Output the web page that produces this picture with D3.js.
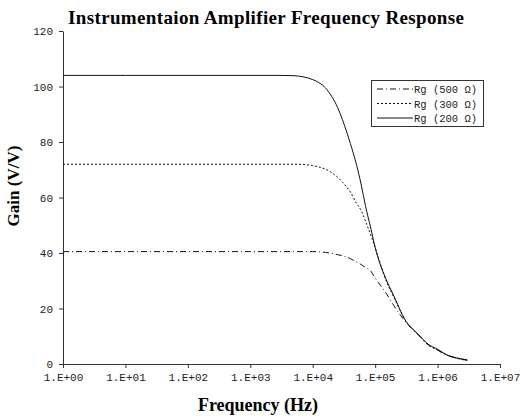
<!DOCTYPE html>
<html>
<head>
<meta charset="utf-8">
<script src="https://cdn.jsdelivr.net/npm/d3@7"></script>
<style>
  body { margin: 0; background: #fff; }
  svg { display: block; }
</style>
</head>
<body>
<svg width="520" height="419"></svg>
<script>
// measured frequencies (Hz)
var freqs = [1, 10, 100, 1000, 3000, 5000, 7000, 10000, 13000, 16000, 20000, 25000, 30000,
             40000, 50000, 60000, 70000, 85000, 100000, 150000, 200000, 300000, 500000,
             700000, 1000000, 1500000, 2000000, 3000000];

var gain500 = [40.5, 40.5, 40.5, 40.5, 40.5, 40.5, 40.5, 40.5, 40.4, 40.2, 39.9, 39.4, 39,
               38, 36.8, 35.8, 34.8, 33.5, 31, 25.5, 21, 15.5, 10.3,
               7, 5, 3, 2.2, 1.3];
var gain300 = [72, 72, 72, 72, 72, 72, 71.9, 71.5, 70.9, 70.2, 69, 67.3, 65.5,
               62, 58, 55.2, 51.5, 46.5, 42, 30, 24, 16, 10.5,
               7, 5, 3, 2.1, 1.3];
var gain200 = [104, 104, 104, 104, 104, 103.9, 103.5, 102.5, 101.2, 99.5, 96.5, 92.5, 88,
               79.5, 72, 64.5, 57, 49, 42, 30.5, 24.5, 16, 10.5,
               7.2, 5.3, 3, 2.2, 1.5];

var seriesNames = ["Rg (500 \u03a9)", "Rg (300 \u03a9)", "Rg (200 \u03a9)"];
var xTicks = [1, 10, 100, 1000, 10000, 100000, 1000000, 10000000];
var xTickLabels = ["1.E+00", "1.E+01", "1.E+02", "1.E+03", "1.E+04", "1.E+05", "1.E+06", "1.E+07"];
var yTicks = [0, 20, 40, 60, 80, 100, 120];

var svg = d3.select("svg");

var x = d3.scaleLog().domain([1, 1e7]).range([63, 500]);
var y = d3.scaleLinear().domain([0, 120]).range([364, 31]);

var monoFont = "'Liberation Mono', monospace";
var serifFont = "'Liberation Serif', 'Times New Roman', serif";

// axes
var xAxis = svg.append("g")
    .attr("transform", "translate(0,364)")
    .call(d3.axisBottom(x).tickValues(xTicks).tickSize(4).tickSizeOuter(0)
        .tickFormat(function (d, i) { return xTickLabels[i]; }));
xAxis.selectAll("text")
    .attr("font-family", monoFont)
    .attr("font-size", 11)
    .attr("fill", "#222")
    .attr("dy", "0.95em");

var yAxis = svg.append("g")
    .attr("transform", "translate(63,0)")
    .call(d3.axisLeft(y).tickValues(yTicks).tickSize(4).tickSizeOuter(0).tickPadding(6));
yAxis.selectAll("text")
    .attr("font-family", monoFont)
    .attr("font-size", 11)
    .attr("fill", "#222");

svg.selectAll(".domain, .tick line").attr("stroke", "#333");

// curves
var series = [
    { name: seriesNames[0], values: gain500, dash: "6,3,1,3" },
    { name: seriesNames[1], values: gain300, dash: "2,2" },
    { name: seriesNames[2], values: gain200, dash: null }
];

var line = d3.line()
    .x(function (d) { return x(d[0]); })
    .y(function (d) { return y(d[1]); })
    .curve(d3.curveMonotoneX);

series.forEach(function (s) {
    var pts = freqs.map(function (f, i) { return [f, s.values[i]]; });
    svg.append("path")
        .attr("d", line(pts))
        .attr("fill", "none")
        .attr("stroke", "#111")
        .attr("stroke-width", 1)
        .attr("stroke-dasharray", s.dash);
});

// legend
var legend = svg.append("g");
legend.append("rect")
    .attr("x", 371.5).attr("y", 80.5)
    .attr("width", 112).attr("height", 46)
    .attr("fill", "#fff").attr("stroke", "#333");

series.forEach(function (s, i) {
    var ly = 89 + i * 14.5;
    legend.append("line")
        .attr("x1", 377).attr("x2", 413)
        .attr("y1", ly).attr("y2", ly)
        .attr("stroke", "#111")
        .attr("stroke-dasharray", s.dash);
    legend.append("text")
        .text(s.name)
        .attr("x", 414).attr("y", ly + 4)
        .attr("font-family", monoFont)
        .attr("font-size", 10.5)
        .attr("fill", "#222")
        .attr("xml:space", "preserve");
});

// titles
svg.append("text")
    .text("Instrumentaion Amplifier Frequency Response")
    .attr("x", 266).attr("y", 24)
    .attr("text-anchor", "middle")
    .attr("font-family", serifFont)
    .attr("font-weight", "bold")
    .attr("font-size", 19)
    .attr("textLength", 396)
    .attr("lengthAdjust", "spacing");

svg.append("text")
    .text("Frequency (Hz)")
    .attr("x", 258).attr("y", 411)
    .attr("text-anchor", "middle")
    .attr("font-family", serifFont)
    .attr("font-weight", "bold")
    .attr("font-size", 18);

svg.append("text")
    .text("Gain (V/V)")
    .attr("transform", "translate(19,186) rotate(-90)")
    .attr("text-anchor", "middle")
    .attr("font-family", serifFont)
    .attr("font-weight", "bold")
    .attr("font-size", 17);
</script>
</body>
</html>
